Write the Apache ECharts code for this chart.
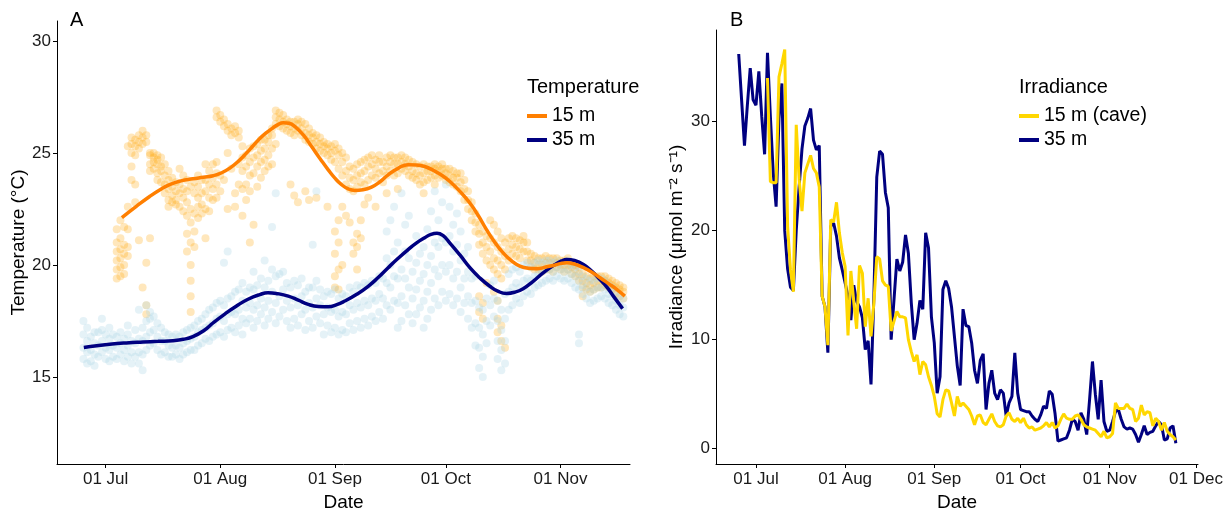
<!DOCTYPE html>
<html>
<head>
<meta charset="utf-8">
<title>Temperature and irradiance</title>
<script src="https://cdn.jsdelivr.net/npm/echarts@6/dist/echarts.min.js"></script>
<style>
html, body { margin: 0; padding: 0; background: #fff; }
#main { width: 1227px; height: 509px; }
</style>
</head>
<body>
<div id="main"></div>
<script>
// days are counted from 01 Jul
var tickDays = [0, 31, 62, 92, 123, 153];
var tickLabels = ['01 Jul', '01 Aug', '01 Sep', '01 Oct', '01 Nov', '01 Dec'];
var tempTicks = [15, 20, 25, 30];
var irrTicks = [0, 10, 20, 30];

// raw temperature readings, one column per day: [day, values...]
var pts15 = [
	[3, 19.4, 19.8, 20.2, 20.6, 21.0, 21.6], [4, 19.5, 19.9, 20.3, 20.7, 21.2, 22.0], [5, 19.6, 20.0, 20.5, 20.9, 21.7],
	[6, 20.4, 20.8, 21.6, 22.6, 25.3], [7, 24.4, 25.0, 25.4, 25.7, 23.8], [8, 24.9, 25.3, 25.6, 23.6, 22.8],
	[9, 25.2, 25.5, 25.8, 21.1], [10, 25.4, 25.7, 26.0, 19.0], [11, 25.5, 25.8, 18.2, 17.8, 20.1],
	[12, 24.5, 24.9, 25.0, 24.2, 21.2], [13, 24.6, 25.0, 24.8, 24.3], [14, 24.5, 24.9, 24.7, 24.1, 23.8],
	[15, 24.4, 24.8, 24.2, 23.7], [16, 24.0, 24.5, 23.6, 23.2], [17, 23.4, 23.8, 24.2, 22.9, 22.6],
	[18, 23.1, 23.5, 22.8, 23.9], [19, 22.9, 23.3, 23.7, 22.7], [20, 23.2, 23.6, 24.3, 22.6],
	[21, 23.0, 23.4, 22.4, 24.0], [22, 22.8, 23.3, 23.8, 22.2, 21.4, 20.6], [23, 23.5, 22.5, 21.9, 21.0, 20.0, 19.3, 18.6, 17.9],
	[24, 23.2, 23.7, 22.3, 21.5, 20.8], [25, 23.0, 23.5, 22.6, 22.1, 24.0], [26, 22.7, 23.2, 23.8, 22.3],
	[27, 23.3, 23.8, 22.5, 24.5, 21.2], [28, 23.0, 23.6, 24.2, 22.4], [29, 23.4, 23.9, 24.5, 22.9],
	[30, 23.6, 24.1, 24.6, 23.0, 26.6, 26.9], [31, 26.4, 26.7, 24.0, 23.3], [32, 26.2, 26.5, 23.8],
	[33, 26.0, 26.3, 25.0, 22.5], [34, 25.8, 26.1, 24.3], [35, 25.9, 26.2, 23.2, 22.6],
	[36, 25.7, 26.0, 24.5, 23.6], [37, 25.3, 24.8, 24.2, 23.4, 22.2], [38, 24.9, 24.4, 23.6, 22.9],
	[39, 25.2, 24.6, 24.0, 23.3, 21.0], [40, 25.3, 24.8, 24.1, 21.8], [41, 25.4, 24.9, 24.4, 23.5],
	[42, 25.6, 25.1, 24.6, 23.9], [43, 25.2, 25.6, 24.7, 24.2], [44, 25.5, 25.8, 24.9, 24.4],
	[45, 25.8, 26.1, 25.2, 24.5], [46, 26.6, 26.9, 26.3, 25.4], [47, 26.5, 26.8, 26.2],
	[48, 26.4, 26.7, 26.1], [49, 26.3, 26.5, 26.0], [50, 26.2, 26.4, 25.9, 23.6],
	[51, 26.1, 26.4, 25.8, 23.1], [52, 26.0, 26.3, 26.5, 22.8], [53, 25.8, 26.1, 26.4],
	[54, 25.6, 25.9, 26.3, 23.3], [55, 25.5, 25.8, 26.1, 22.9], [56, 25.4, 25.7, 25.9],
	[57, 25.2, 25.5, 25.8, 23.0], [58, 25.1, 25.4, 25.7], [59, 25.0, 25.3, 25.5],
	[60, 24.9, 25.2, 25.4, 22.6], [61, 24.7, 25.0, 25.3], [62, 24.6, 25.1, 25.4, 21.5, 20.5, 19.5, 19.0],
	[63, 24.3, 24.9, 25.2, 22.0, 21.0, 19.8, 18.9], [64, 24.0, 24.6, 25.0, 22.6, 20.0], [65, 23.6, 24.2, 24.8, 22.2],
	[66, 23.4, 23.9, 24.4, 21.9], [67, 23.3, 23.8, 24.3, 21.0, 20.5], [68, 23.5, 24.0, 24.5, 21.4, 20.8, 19.8],
	[69, 23.7, 24.1, 24.6, 22.0, 21.2], [70, 23.6, 24.2, 24.7, 22.7], [71, 23.8, 24.4, 24.8, 23.0],
	[72, 24.0, 24.5, 24.9], [73, 23.9, 24.3, 24.7, 22.6], [74, 24.1, 24.6, 24.9],
	[75, 23.7, 24.2, 24.6], [76, 24.0, 24.4, 24.8, 23.2], [77, 24.2, 24.6, 24.9],
	[78, 24.0, 24.5, 24.8], [79, 24.1, 24.5, 24.8, 23.4], [80, 24.3, 24.6, 24.9],
	[81, 24.2, 24.5, 24.8], [82, 24.0, 24.4, 24.7], [83, 23.9, 24.2, 24.6],
	[84, 23.8, 24.1, 24.5], [85, 23.6, 24.0, 24.4], [86, 23.7, 24.1, 24.5, 23.2],
	[87, 23.8, 24.2, 24.4], [88, 23.9, 24.2, 24.4], [89, 24.0, 24.3, 24.5, 23.6],
	[90, 23.9, 24.2, 24.4], [91, 24.0, 24.3, 24.5], [92, 23.8, 24.1, 24.3],
	[93, 23.7, 24.0, 24.3], [94, 23.6, 23.9, 24.2], [95, 23.5, 23.9, 24.1],
	[96, 23.3, 23.7, 24.1], [97, 22.9, 23.4, 23.8], [98, 22.5, 22.9, 23.3],
	[99, 22.0, 22.4, 22.8], [100, 21.5, 21.9, 22.3], [101, 20.9, 21.4, 21.8, 18.6, 17.9],
	[102, 20.5, 21.0, 21.5, 18.3, 17.6], [103, 20.2, 20.8, 21.3, 19.2], [104, 20.0, 20.6, 21.2, 22.0],
	[105, 19.8, 20.3, 21.0, 21.8, 18.8], [106, 19.6, 20.2, 20.8, 21.5, 18.4, 17.6, 17.0], [107, 19.4, 20.0, 20.6, 21.2, 17.3, 16.6],
	[108, 19.8, 20.4, 21.0, 16.3], [109, 20.2, 20.7, 21.2], [110, 20.5, 20.9, 21.3],
	[111, 20.4, 20.8, 21.2], [112, 20.3, 20.7, 21.1], [113, 20.6, 21.0, 21.3],
	[114, 20.2, 20.6, 21.0], [115, 19.9, 20.2, 20.5], [116, 19.8, 20.1, 20.4],
	[117, 19.8, 20.0, 20.3], [118, 19.7, 20.0, 20.3], [119, 19.8, 20.1, 20.4],
	[120, 19.8, 20.1, 20.3], [121, 19.7, 20.0, 20.3], [122, 19.9, 20.1, 20.3],
	[123, 19.8, 20.0, 20.2], [124, 19.7, 20.0, 20.2], [125, 19.8, 20.0, 20.3],
	[126, 19.6, 19.9, 20.1], [127, 19.5, 19.8, 20.0], [128, 19.3, 19.6, 19.9],
	[129, 19.0, 19.3, 19.6, 18.6], [130, 18.9, 19.2, 19.5], [131, 18.8, 19.1, 19.4],
	[132, 18.9, 19.2, 19.5], [133, 19.0, 19.3, 19.5], [134, 19.0, 19.3, 19.5],
	[135, 19.1, 19.3, 19.5], [136, 19.0, 19.2, 19.4], [137, 18.9, 19.1, 19.3],
	[138, 18.7, 19.0, 19.2], [139, 18.6, 18.9, 19.1], [140, 18.5, 18.8, 19.0]
];
var pts35 = [
	[-6, 15.8, 16.3, 16.9, 17.5], [-5, 15.6, 16.1, 16.6, 17.2], [-4, 15.7, 16.2, 16.8], [-3, 15.5, 16.0, 16.5, 17.0],
	[-2, 15.9, 16.4, 17.0], [-1, 16.1, 16.6, 17.1, 17.6], [0, 15.8, 16.3, 16.9], [1, 15.7, 16.2, 16.7, 17.2],
	[2, 15.9, 16.4, 16.9], [3, 15.8, 16.3, 16.8], [4, 16.0, 16.5, 17.0], [5, 15.7, 16.2, 16.7],
	[6, 15.9, 16.4, 16.9, 17.3], [7, 15.6, 16.1, 16.6], [8, 15.9, 16.5, 17.1], [9, 15.6, 16.1, 16.7, 18.0],
	[10, 15.3, 16.0, 16.6, 17.2], [11, 16.2, 16.8, 17.5, 18.2], [12, 16.4, 17.0, 17.6, 17.9], [13, 16.5, 17.1, 17.7],
	[14, 16.2, 16.8, 17.4], [15, 16.0, 16.6, 17.2], [16, 16.1, 16.6, 17.0], [17, 15.9, 16.4, 16.9],
	[18, 15.9, 16.3, 16.8], [19, 16.0, 16.4, 16.9], [20, 15.8, 16.3, 16.8], [21, 16.0, 16.5, 17.0],
	[22, 16.1, 16.6, 17.1], [23, 16.2, 16.7, 17.2], [24, 16.2, 16.8, 17.3], [25, 16.4, 17.0, 17.5],
	[26, 16.5, 17.1, 17.6], [27, 16.7, 17.2, 17.8], [28, 16.6, 17.3, 18.0], [29, 16.8, 17.4, 18.1],
	[30, 16.9, 17.6, 18.3], [31, 17.0, 17.7, 18.4], [32, 16.8, 17.5, 18.2, 20.1], [33, 17.1, 17.8, 18.5, 20.6],
	[34, 17.2, 17.9, 18.6], [35, 17.0, 17.8, 18.8], [36, 17.3, 18.0, 18.9], [37, 16.9, 17.6, 18.4, 19.2],
	[38, 17.4, 18.1, 18.8], [39, 17.6, 18.3, 19.0], [40, 17.2, 18.0, 18.9, 19.7], [41, 17.5, 18.2, 19.1],
	[42, 17.8, 18.5, 19.4], [43, 17.3, 18.1, 19.0, 20.2], [44, 17.6, 18.4, 19.3], [45, 17.9, 18.8, 19.8, 21.7],
	[46, 17.4, 18.3, 19.5, 23.2], [47, 17.7, 18.6, 19.6], [48, 18.0, 18.9, 19.7], [49, 17.5, 18.4, 19.2],
	[50, 17.2, 18.1, 19.0], [51, 17.6, 18.5, 19.3], [52, 17.3, 18.2, 19.1], [53, 17.8, 18.6, 19.4],
	[54, 17.1, 18.0, 18.8], [55, 17.5, 18.3, 19.0], [56, 17.2, 18.1, 19.0, 20.9], [57, 17.7, 18.5, 19.3, 23.3],
	[58, 17.4, 18.2, 18.9], [59, 16.9, 17.8, 18.6], [60, 17.3, 18.1, 18.8], [61, 17.0, 17.9, 18.7],
	[62, 17.2, 18.0, 18.9], [63, 16.9, 17.7, 18.5], [64, 17.1, 17.9, 18.7], [65, 17.0, 17.8, 18.6],
	[66, 17.4, 18.2, 19.0], [67, 17.1, 18.0, 18.8], [68, 17.5, 18.3, 19.1], [69, 17.2, 18.1, 19.0],
	[70, 17.6, 18.4, 19.2], [71, 17.3, 18.2, 19.1], [72, 17.7, 18.5, 19.3], [73, 17.5, 18.4, 19.2],
	[74, 17.9, 18.7, 19.5], [75, 17.6, 18.5, 19.4], [76, 18.2, 19.2, 20.3, 21.5], [77, 18.0, 19.0, 20.0, 22.0],
	[78, 18.4, 19.5, 20.6, 22.6], [79, 17.2, 18.3, 19.4, 21.0], [80, 17.5, 18.6, 19.8, 23.2], [81, 18.2, 19.4, 20.6, 21.8],
	[82, 17.8, 19.0, 20.3, 22.2], [83, 17.4, 18.5, 19.7], [84, 17.8, 18.9, 20.1, 21.3], [85, 18.1, 19.3, 20.5],
	[86, 17.2, 18.4, 19.6, 20.8], [87, 17.6, 18.8, 20.0, 21.6], [88, 18.0, 19.2, 20.4, 22.4], [89, 18.5, 19.8, 21.0, 23.3],
	[90, 18.2, 19.5, 20.8, 22.0], [91, 18.8, 20.0, 21.2, 22.8], [92, 18.4, 19.7, 21.0, 23.6], [93, 18.7, 20.0, 21.3, 22.6],
	[94, 18.2, 19.4, 20.6, 21.8], [95, 18.5, 19.7, 20.9, 22.3], [96, 17.9, 19.0, 20.2, 21.5], [97, 18.3, 19.4, 20.5],
	[98, 17.6, 18.6, 19.7, 20.8], [99, 17.2, 18.3, 19.4], [100, 16.4, 17.4, 18.4, 19.5], [101, 15.4, 16.3, 17.2, 18.1],
	[102, 15.0, 15.9, 16.9, 18.0], [103, 16.5, 17.5, 18.5], [104, 17.3, 18.2, 19.1], [105, 17.7, 18.5, 19.3],
	[106, 15.8, 16.6, 17.5, 18.4], [107, 15.3, 16.2, 17.1, 18.0], [108, 15.6, 16.6, 17.6, 18.7], [109, 18.0, 18.8, 19.6],
	[110, 18.2, 19.0, 19.8], [111, 18.5, 19.2, 19.9], [112, 18.3, 19.0, 19.7], [113, 18.6, 19.3, 20.0],
	[114, 18.8, 19.4, 20.1], [115, 18.7, 19.3, 19.9], [116, 19.0, 19.5, 20.1], [117, 19.1, 19.6, 20.2],
	[118, 19.2, 19.7, 20.1], [119, 19.3, 19.8, 20.2], [120, 19.4, 19.8, 20.2], [121, 19.3, 19.7, 20.1],
	[122, 19.5, 19.9, 20.2], [123, 19.4, 19.8, 20.1], [124, 19.3, 19.7, 20.1], [125, 19.4, 19.8, 20.2],
	[126, 19.2, 19.6, 20.0], [127, 19.0, 19.5, 19.9], [128, 18.9, 19.3, 19.7, 16.9, 16.5], [129, 18.7, 19.1, 19.5],
	[130, 18.5, 19.0, 19.4], [131, 18.3, 18.8, 19.3], [132, 18.4, 18.9, 19.3], [133, 18.5, 19.0, 19.4],
	[134, 18.6, 19.0, 19.4], [135, 18.5, 18.9, 19.3], [136, 18.3, 18.7, 19.1], [137, 18.2, 18.6, 19.0],
	[138, 18.0, 18.4, 18.8], [139, 17.8, 18.2, 18.6], [140, 17.7, 18.1, 18.5]
];

// smoothed temperature: [day, value]
var fit15 = [
	[4.4, 22.12], [8.3, 22.62], [11.9, 23.06], [14.6, 23.35], [17.3, 23.59], [20.4, 23.76], [23.6, 23.85],
	[26.4, 23.92], [29.1, 23.99], [31.4, 24.12], [33.6, 24.33], [36.0, 24.65], [38.1, 25.0], [40.0, 25.35],
	[41.7, 25.65], [43.4, 25.9], [45.0, 26.1], [46.6, 26.27], [48.0, 26.36], [49.6, 26.33], [51.2, 26.18],
	[53.5, 25.8], [55.7, 25.29], [58.0, 24.75], [60.2, 24.25], [62.0, 23.88], [63.8, 23.59], [65.6, 23.4],
	[67.4, 23.33], [69.6, 23.36], [71.9, 23.48], [74.2, 23.72], [76.4, 24.03], [79.2, 24.33], [81.8, 24.48],
	[84.0, 24.47], [86.3, 24.4], [88.7, 24.22], [91.0, 24.0], [93.1, 23.73], [95.8, 23.29], [98.5, 22.77],
	[100.8, 22.2], [103.0, 21.58], [105.3, 21.0], [107.5, 20.54], [109.8, 20.18], [112.0, 19.95], [114.3, 19.85],
	[116.6, 19.83], [118.8, 19.9], [121.0, 19.98], [122.9, 20.06], [124.7, 20.1], [127.0, 20.03], [129.2, 19.88],
	[131.5, 19.68], [133.7, 19.43], [136.0, 19.17], [138.2, 18.91], [140.4, 18.61]
];
var fit35 = [
	[-5.9, 16.31], [-2.4, 16.39], [1.1, 16.46], [5.6, 16.52], [10.1, 16.56], [14.2, 16.59], [18.2, 16.62],
	[21.0, 16.68], [23.6, 16.8], [26.5, 17.06], [29.1, 17.42], [32.3, 17.82], [35.4, 18.17], [38.5, 18.47],
	[41.7, 18.68], [43.9, 18.76], [46.5, 18.72], [49.4, 18.61], [52.1, 18.43], [54.8, 18.24], [57.5, 18.15],
	[60.2, 18.14], [62.5, 18.23], [64.7, 18.39], [67.8, 18.68], [71.0, 19.05], [73.7, 19.44], [76.4, 19.88],
	[79.1, 20.3], [81.8, 20.69], [84.0, 20.98], [86.3, 21.22], [88.0, 21.37], [89.6, 21.42], [91.2, 21.32],
	[93.1, 20.98], [95.8, 20.45], [98.5, 19.88], [101.2, 19.42], [103.9, 19.05], [106.2, 18.82], [108.4, 18.73],
	[110.6, 18.78], [112.9, 18.94], [115.6, 19.27], [118.3, 19.65], [121.5, 20.02], [123.3, 20.18], [124.7, 20.25],
	[126.8, 20.2], [129.2, 20.02], [131.5, 19.72], [133.7, 19.35], [135.6, 19.0], [137.3, 18.61], [139.8, 18.05]
];

// daily irradiance, first value on the start day
var irr35Start = -6;
var irr35 = [
	36.2, 32.0, 27.8, 31.5, 34.9, 32.0, 31.5, 34.6, 30.5, 27.0,
	36.3, 30.5, 25.3, 22.2, 30.3, 33.5, 20.0, 16.5, 14.8, 14.5,
	20.0, 24.0, 27.5, 29.6, 30.3, 31.2, 28.3, 27.4, 27.8, 14.0,
	13.0, 8.8, 20.4, 20.7, 19.5, 17.5, 16.4, 15.2, 14.0, 11.8,
	15.0, 13.5, 13.0, 12.0, 9.1, 9.9, 5.9, 14.0, 24.9, 27.3,
	27.0, 23.5, 22.1, 10.0, 13.7, 17.4, 16.3, 17.1, 19.6, 17.9,
	13.4, 10.0, 11.5, 13.6, 12.8, 19.8, 18.4, 12.1, 9.7, 5.1,
	6.6, 14.6, 15.4, 14.7, 13.0, 10.3, 7.6, 5.8, 12.8, 11.3,
	11.2, 9.7, 7.2, 6.0, 8.1, 8.7, 3.6, 6.0, 7.2, 5.1,
	4.5, 5.4, 5.1, 3.0, 4.2, 4.8, 8.8, 5.1, 3.6, 3.5,
	3.4, 3.4, 3.0, 2.7, 2.5, 3.1, 3.9, 3.7, 5.3, 5.0,
	3.2, 0.7, 0.8, 0.9, 1.0, 1.7, 2.7, 2.5, 1.7, 3.3,
	2.7, 1.3, 4.5, 8.0, 5.0, 2.7, 6.3, 2.5, 1.6, 1.7,
	2.5, 3.4, 3.6, 2.7, 2.0, 1.8, 1.9, 1.8, 1.3, 0.6,
	1.3, 2.1, 1.3, 1.5, 1.6, 2.1, 2.5, 2.2, 0.8, 0.9,
	1.9, 2.1, 0.5
];
var irr15Start = 4;
var irr15 = [
	34.0, 24.5, 24.4, 24.4, 34.1, 35.3, 36.6, 20.4, 16.4, 14.4,
	29.7, 24.7, 21.8, 25.3, 26.1, 26.9, 25.7, 25.3, 24.0, 14.0,
	13.0, 9.5, 21.0, 20.8, 22.6, 19.8, 18.0, 16.7, 10.4, 16.3,
	13.5, 11.0, 16.8, 16.1, 11.2, 13.8, 10.3, 13.4, 17.6, 17.4,
	15.4, 15.0, 14.9, 10.8, 11.7, 12.6, 12.1, 12.1, 12.0, 10.0,
	8.9, 8.0, 8.6, 6.8, 8.0, 7.7, 6.6, 5.8, 4.8, 3.2,
	2.9, 4.5, 5.4, 5.3, 4.2, 3.0, 4.8, 3.9, 4.2, 3.9,
	3.6, 3.0, 2.2, 3.0, 3.1, 2.4, 2.2, 2.7, 3.2, 2.5,
	2.1, 2.0, 2.2, 3.0, 3.3, 2.7, 2.5, 2.8, 2.4, 2.8,
	2.2, 1.9, 2.0, 1.7, 1.8, 1.9, 2.1, 2.4, 2.0, 2.4,
	1.9, 2.1, 2.7, 3.2, 2.8, 2.7, 2.7, 3.0, 3.1, 2.7,
	2.2, 2.0, 1.9, 1.8, 1.7, 1.4, 1.1, 1.6, 1.0, 1.1,
	1.4, 4.2, 3.7, 3.7, 3.7, 4.1, 3.7, 3.6, 2.5, 2.8,
	4.0, 3.1, 3.4, 3.3, 2.1, 2.8, 2.5, 1.7, 2.4, 1.6,
	1.3, 1.1, 0.8
];

var legendNames = { t15: '15 m', t35: '35 m', irr15: '15 m (cave)', irr35: '35 m' };
var FONT = '"Liberation Sans", Arial, sans-serif';

function columns(cols) {
	var out = [];
	for (var i = 0; i < cols.length; i++) {
		for (var j = 1; j < cols[i].length; j++) {
			out.push([cols[i][0], cols[i][j]]);
		}
	}
	return out;
}

function daily(start, values) {
	var out = [];
	for (var i = 0; i < values.length; i++) {
		out.push([start + i, values[i]]);
	}
	return out;
}

function dayLabel(v) {
	var i = tickDays.indexOf(v);
	return i >= 0 ? tickLabels[i] : '';
}

function xAxisOf(grid, min, max, ticks) {
	return {
		type : 'value',
		gridIndex : grid,
		min : min,
		max : max,
		name : 'Date',
		nameLocation : 'middle',
		nameGap : 23,
		nameTextStyle : { fontSize : 19, color : '#000', fontFamily : FONT },
		axisLine : { onZero : false, lineStyle : { color : '#000', width : 1 } },
		axisTick : { customValues : ticks, length : 4, lineStyle : { color : '#000' } },
		axisLabel : { customValues : ticks, formatter : dayLabel, fontSize : 17, color : '#1a1a1a', margin : 7, fontFamily : FONT },
		splitLine : { show : false }
	};
}

function yAxisOf(grid, min, max, ticks, name, gap) {
	return {
		type : 'value',
		gridIndex : grid,
		min : min,
		max : max,
		name : name,
		nameLocation : 'middle',
		nameGap : gap,
		nameRotate : 90,
		nameTextStyle : { fontSize : 19, color : '#000', fontFamily : FONT },
		axisLine : { show : true, onZero : false, lineStyle : { color : '#000', width : 1 } },
		axisTick : { show : true, customValues : ticks, length : 4, lineStyle : { color : '#000' } },
		axisLabel : { customValues : ticks, fontSize : 17, color : '#1a1a1a', margin : 6, fontFamily : FONT },
		splitLine : { show : false }
	};
}

function legendOf(left, names) {
	return {
		left : left,
		top : 106,
		orient : 'vertical',
		padding : 0,
		itemGap : 4,
		itemWidth : 20,
		itemHeight : 4,
		icon : 'rect',
		selectedMode : false,
		data : names,
		formatter : function(name) { return legendNames[name]; },
		textStyle : { fontSize : 19.5, lineHeight : 20, color : '#000', fontFamily : FONT }
	};
}

function title(text, left, top, size) {
	return { type : 'text', left : left, top : top, style : { text : text, fontSize : size, fontFamily : FONT, fill : '#000' } };
}

var option = {
	animation : false,
	backgroundColor : '#fff',
	grid : [
		{ left : 57, top : 21, width : 573, bottom : 45, outerBoundsMode : 'none' },
		{ left : 716, top : 30, width : 482, bottom : 45, outerBoundsMode : 'none' }
	],
	xAxis : [
		xAxisOf(0, -13.15, 141.8, tickDays.slice(0, 5)),
		xAxisOf(1, -13.9, 153.7, tickDays)
	],
	yAxis : [
		yAxisOf(0, 11.11, 30.9, tempTicks, 'Temperature (°C)', 26),
		yAxisOf(1, -1.4, 38.4, irrTicks, 'Irradiance (μmol m⁻² s⁻¹)', 30)
	],
	legend : [ legendOf(527, [ 't15', 't35' ]), legendOf(1019, [ 'irr15', 'irr35' ]) ],
	graphic : [
		title('A', 70, 10, 20),
		title('B', 730, 10, 20),
		title('Temperature', 527, 77, 20),
		title('Irradiance', 1019, 77, 20)
	],
	series : [
		{
			name : 'pts15', type : 'scatter', xAxisIndex : 0, yAxisIndex : 0,
			data : columns(pts15), symbolSize : 8, silent : true,
			itemStyle : { color : 'rgba(255,165,0,0.33)' }, z : 1
		},
		{
			name : 'pts35', type : 'scatter', xAxisIndex : 0, yAxisIndex : 0,
			data : columns(pts35), symbolSize : 8, silent : true,
			itemStyle : { color : 'rgba(173,216,230,0.4)' }, z : 1
		},
		{
			name : 't35', type : 'line', xAxisIndex : 0, yAxisIndex : 0,
			data : fit35, smooth : true, symbol : 'none', color : '#000080',
			lineStyle : { width : 3.5, color : '#000080' }, z : 3
		},
		{
			name : 't15', type : 'line', xAxisIndex : 0, yAxisIndex : 0,
			data : fit15, smooth : true, symbol : 'none', color : '#FF7F00',
			lineStyle : { width : 3.5, color : '#FF7F00' }, z : 4
		},
		{
			name : 'irr35', type : 'line', xAxisIndex : 1, yAxisIndex : 1,
			data : daily(irr35Start, irr35), symbol : 'none', color : '#000080',
			lineStyle : { width : 3, color : '#000080' }, z : 3
		},
		{
			name : 'irr15', type : 'line', xAxisIndex : 1, yAxisIndex : 1,
			data : daily(irr15Start, irr15), symbol : 'none', color : '#FFD700',
			lineStyle : { width : 3, color : '#FFD700' }, z : 4
		}
	]
};

var chart = echarts.init(document.getElementById('main'));
chart.setOption(option);
</script>
</body>
</html>
